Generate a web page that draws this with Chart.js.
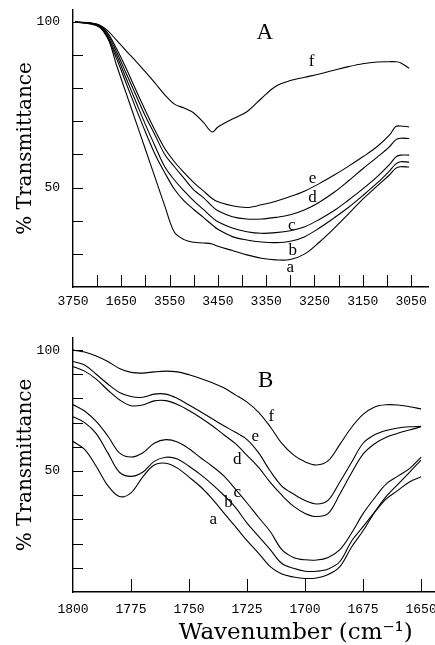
<!DOCTYPE html>
<html>
<head>
<meta charset="utf-8">
<title>IR transmittance</title>
<script src="https://cdn.jsdelivr.net/npm/chart.js@4.4.1/dist/chart.umd.min.js"></script>
<style>
  body { margin: 0; background: #fff; }
  canvas { display: block; }
</style>
</head>
<body>
<canvas id="chartA" width="435" height="320"></canvas>
<canvas id="chartB" width="435" height="325"></canvas>
<script>
// panel A : O-H / N-H stretch region
const wnA = [3746, 3700, 3680, 3660, 3640, 3620, 3600, 3580, 3560, 3540, 3520, 3500, 3480, 3462, 3450,
  3420, 3390, 3360, 3330, 3300, 3270, 3240, 3210, 3180, 3150, 3120, 3095, 3082, 3072, 3054];
const aA = [100, 98.8, 96, 87, 78.5, 70, 61.5, 53, 44.5, 36.5, 34.3, 33.5, 33.3, 33, 32.3,
  31, 29.7, 28.7, 28.2, 28.3, 30, 33.5, 37.6, 42, 46.5, 50.5, 53.8, 55.8, 56.3, 56.2];
const bA = [100, 99, 95.5, 89, 81.5, 74, 66.8, 60, 54.5, 49.5, 46, 43.4, 41, 38.8, 37.4,
  35.2, 34.2, 33.6, 33.4, 33.8, 35.2, 37.8, 40.8, 44, 47.6, 51.4, 55, 57.1, 57.8, 57.7];
const cA = [100, 99.1, 96, 90, 83, 76, 69, 62.5, 56.3, 52.3, 49, 46, 43.4, 41, 39.7,
  37.8, 36.7, 36.2, 36.4, 37, 38.2, 40.4, 43, 46.2, 49.6, 53.3, 56.9, 59.2, 59.8, 59.8];
const dA = [100, 99.2, 96.5, 91, 84.5, 78, 71.5, 65.8, 60, 56.3, 52.8, 49.3, 47, 44.4, 43,
  41.2, 40.5, 40.5, 41, 41.8, 43.3, 45.6, 48.5, 52, 55.7, 59.2, 62.3, 64.4, 64.9, 64.8];
const eA = [100, 99.3, 97, 92, 86, 79.5, 73.2, 67.2, 61.8, 57.8, 54.5, 51.5, 49, 46.7, 45.7,
  44.5, 44, 44.8, 45.9, 47.3, 49, 51.2, 53.7, 56.4, 59.3, 62.4, 65.8, 68.4, 68.6, 68.3];
const fA = [100, 99.3, 97.6, 94.5, 91.3, 88.2, 84.9, 81.5, 78, 75.2, 74, 72.5, 69.7, 66.8, 68.3,
  70.7, 72.9, 76.9, 80.6, 82.3, 83.3, 84.3, 85.4, 86.5, 87.4, 87.9, 88, 88, 87.7, 86];

// panel B : carbonyl region
const wnB = [1800, 1795, 1790, 1785, 1780, 1775, 1770, 1765, 1760, 1755, 1750, 1745, 1740, 1735, 1730,
  1725, 1720, 1715, 1710, 1705, 1700, 1695, 1690, 1685, 1680, 1675, 1670, 1665, 1660, 1655, 1650];
const aB = [62.2, 59, 52, 44, 39.5, 41, 47.5, 52.5, 53.2, 51.2, 47.5, 43.5, 38.5, 32.7, 27,
  21.2, 16, 10.5, 7.4, 6.2, 5.6, 5.8, 7.2, 10.5, 18.5, 25.3, 33, 39.5, 44.5, 49.5, 54.5];
const bB = [72.5, 70, 65.5, 57.5, 49.5, 47.8, 49.5, 54, 55.7, 55, 52, 48.5, 44.5, 40, 35,
  28.5, 23, 17.5, 11.8, 9.8, 8.6, 8.6, 9.5, 12.6, 21, 27, 33, 38.5, 42, 45.5, 47.6];
const cB = [77.5, 74.8, 70.5, 64.5, 57.5, 55.8, 57.5, 61.5, 63, 62, 59.2, 55.5, 52, 48, 42.5,
  36.8, 30.8, 25, 17.5, 14.3, 13.3, 13.2, 14.3, 17.5, 24.3, 32.4, 38.9, 44.7, 47.9, 51, 55.8];
const dB = [93.2, 91.3, 88, 83.5, 79.5, 77, 77.3, 79, 79.1, 77.5, 75, 72, 68.7, 65, 61.3,
  56.5, 51.5, 45.3, 40, 35.5, 32.5, 31.2, 32.5, 40.5, 49.2, 57, 61.3, 64, 65.6, 67, 68.3];
const eB = [95.3, 93.8, 90, 86, 82.5, 80.8, 80.5, 81.8, 81.8, 80, 77.3, 74.5, 71.6, 68.7, 66,
  63, 57.5, 50, 43.8, 40.5, 37.8, 36.4, 38, 45.5, 53.5, 61.5, 65, 66.8, 67.8, 68.3, 68.5];
const fB = [100, 99.2, 97.6, 95.3, 92.4, 90.8, 90.5, 91, 91.3, 91, 89.8, 88.3, 86.5, 84.4, 81.5,
  78.5, 74.3, 68.3, 61.4, 56.7, 53.8, 52.5, 54.3, 61, 68, 73.4, 76.5, 77.4, 77.3, 76.6, 75.7];

// curve letters and where they sit (wavenumber, %T)
const curveNames = ["a", "b", "c", "d", "e", "f"];
const namePosA = [[3300, 26], [3295, 30.9], [3297, 38.5], [3254, 47], [3254, 52.7], [3256, 87.9]];
const namePosB = [[1739.5, 30], [1733, 36.8], [1729.2, 41.3], [1729.2, 54.6], [1721.4, 64.2], [1714.5, 72.5]];

function lineSet(wn, vals) {
  return {
    data: wn.map((w, i) => ({ x: w, y: vals[i] })),
    borderColor: "#000",
    borderWidth: 1.1,
    pointRadius: 0,
    tension: 0.35,
    fill: false,
  };
}

// inward tick marks + curve letters + panel letter (+ optional x title)
function decor(names, spots, panel, panelAt, xLen, yLen, xTitle) {
  return {
    id: "decor",
    afterDraw(chart) {
      const ctx = chart.ctx;
      const area = chart.chartArea;
      const x = chart.scales.x;
      const y = chart.scales.y;
      ctx.save();
      ctx.strokeStyle = "#000";
      ctx.lineWidth = 1;
      ctx.beginPath();
      x.ticks.forEach((t) => {
        if (t.value === x.max) return;
        let px = Math.round(x.getPixelForValue(t.value)) + 0.5;
        ctx.moveTo(px, area.bottom);
        ctx.lineTo(px, area.bottom - xLen);
      });
      y.ticks.forEach((t) => {
        if (t.value === y.min) return;
        let py = Math.round(y.getPixelForValue(t.value)) + 0.5;
        ctx.moveTo(area.left, py);
        ctx.lineTo(area.left + yLen, py);
      });
      ctx.stroke();
      ctx.fillStyle = "#000";
      ctx.textAlign = "center";
      ctx.textBaseline = "middle";
      ctx.font = '17px "Liberation Serif"';
      names.forEach((n, i) => {
        ctx.fillText(n, x.getPixelForValue(spots[i][0]), y.getPixelForValue(spots[i][1]));
      });
      ctx.font = '23px "Liberation Serif"';
      ctx.fillText(panel, x.getPixelForValue(panelAt[0]), y.getPixelForValue(panelAt[1]));
      if (xTitle) {
        ctx.font = '23px "DejaVu Serif"';
        ctx.fillText(xTitle.text, x.getPixelForValue(xTitle.at), area.bottom + 41);
      }
      ctx.restore();
    },
  };
}

const tickFont = { family: '"Liberation Mono"', size: 13 };
const titleFont = { family: '"DejaVu Serif"', size: 20 };

function noPad(s) {
  s.paddingTop = 0;
  s.paddingBottom = 0;
  s.paddingLeft = 0;
  s.paddingRight = 0;
}

new Chart(document.getElementById("chartA"), {
  type: "line",
  data: { datasets: [lineSet(wnA, aA), lineSet(wnA, bA), lineSet(wnA, cA), lineSet(wnA, dA), lineSet(wnA, eA), lineSet(wnA, fA)] },
  options: {
    responsive: false,
    animation: false,
    layout: { padding: { left: 0, right: 7, top: 10, bottom: 0 } },
    plugins: { legend: { display: false }, tooltip: { enabled: false } },
    scales: {
      x: {
        type: "linear",
        reverse: true,
        min: 3015,
        max: 3750,
        afterFit: (s) => { s.height = 33; noPad(s); },
        grid: { drawOnChartArea: false, drawTicks: false },
        border: { display: true, color: "#000", width: 1.4 },
        ticks: {
          stepSize: 50,
          includeBounds: false,
          autoSkip: false,
          maxRotation: 0,
          padding: 7,
          color: "#000",
          font: tickFont,
          callback: (v) => (v % 100 === 50 ? (v === 3650 ? "1650" : String(v)) : ""),
        },
      },
      y: {
        min: 20,
        max: 103.6,
        afterFit: (s) => { s.width = 73; noPad(s); },
        grid: { drawOnChartArea: false, drawTicks: false },
        border: { display: true, color: "#000", width: 1.4 },
        title: { display: true, text: "% Transmittance", color: "#000", font: titleFont, padding: { top: 14, bottom: 0 } },
        ticks: {
          stepSize: 10,
          includeBounds: false,
          autoSkip: false,
          padding: 13,
          color: "#000",
          font: tickFont,
          callback: (v) => (v === 50 || v === 100 ? String(v) : ""),
        },
      },
    },
  },
  plugins: [decor(curveNames, namePosA, "A", [3353, 96.7], 12, 10)],
});

new Chart(document.getElementById("chartB"), {
  type: "line",
  data: { datasets: [lineSet(wnB, aB), lineSet(wnB, bB), lineSet(wnB, cB), lineSet(wnB, dB), lineSet(wnB, eB), lineSet(wnB, fB)] },
  options: {
    responsive: false,
    animation: false,
    layout: { padding: { left: 0, right: 0, top: 18, bottom: 0 } },
    plugins: { legend: { display: false }, tooltip: { enabled: false } },
    scales: {
      x: {
        type: "linear",
        reverse: true,
        min: 1644,
        max: 1800,
        afterFit: (s) => { s.height = 53; noPad(s); },
        grid: { drawOnChartArea: false, drawTicks: false },
        border: { display: true, color: "#000", width: 1.4 },
        ticks: {
          stepSize: 25,
          includeBounds: false,
          autoSkip: false,
          maxRotation: 0,
          padding: 10,
          color: "#000",
          font: tickFont,
          callback: (v) => String(v),
        },
      },
      y: {
        min: 0,
        max: 105,
        afterFit: (s) => { s.width = 73; noPad(s); },
        grid: { drawOnChartArea: false, drawTicks: false },
        border: { display: true, color: "#000", width: 1.4 },
        title: { display: true, text: "% Transmittance", color: "#000", font: titleFont, padding: { top: 14, bottom: 0 } },
        ticks: {
          stepSize: 10,
          includeBounds: false,
          autoSkip: false,
          padding: 13,
          color: "#000",
          font: tickFont,
          callback: (v) => (v === 50 || v === 100 ? String(v) : ""),
        },
      },
    },
  },
  plugins: [decor(curveNames, namePosB, "B", [1717, 87.1], 13, 10, { text: "Wavenumber (cm\u207B\u00B9)", at: 1704 })],
});
</script>
</body>
</html>
